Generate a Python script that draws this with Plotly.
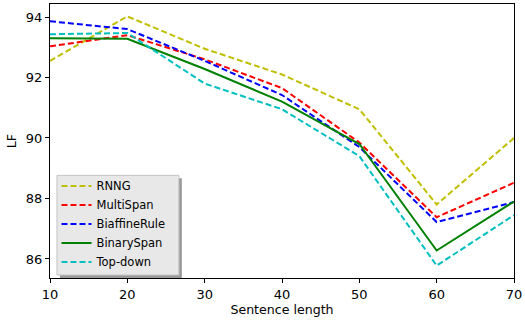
import plotly.graph_objects as go

lengths = [10, 20, 30, 40, 50, 60, 70]
rnng = [92.55, 94.02, 92.95, 92.1, 90.95, 87.8, 90.0]
multispan = [93.03, 93.4, 92.6, 91.65, 89.85, 87.38, 88.52]
biaffine = [93.86, 93.6, 92.55, 91.42, 89.7, 87.22, 87.88]
binaryspan = [93.3, 93.28, 92.28, 91.2, 89.8, 86.28, 87.9]
topdown = [93.43, 93.47, 91.8, 90.95, 89.4, 85.78, 87.45]

series = [
    ("RNNG", rnng, "#bfbf00", "dash"),
    ("MultiSpan", multispan, "#ff0000", "dash"),
    ("BiaffineRule", biaffine, "#0000ff", "dash"),
    ("BinarySpan", binaryspan, "#008000", "solid"),
    ("Top-down", topdown, "#00bfbf", "dash"),
]

fig = go.Figure()
for name, vals, color, dash in series:
    fig.add_trace(go.Scatter(x=lengths, y=vals, name=name, mode="lines",
                             line=dict(color=color, width=2, dash="6px,3px" if dash == "dash" else "solid")))

W, H = 468, 275  # plot area in px
font = dict(family="DejaVu Sans", size=13, color="black")
fig.update_layout(
    width=525, height=322,
    margin=dict(l=50, r=7, t=3, b=44),
    plot_bgcolor="white", paper_bgcolor="white",
    font=font,
    xaxis=dict(range=[10, 70], tickvals=[10, 20, 30, 40, 50, 60, 70], showgrid=False, zeroline=False,
               showline=True, linecolor="black", linewidth=1, mirror=True,
               ticks="outside", ticklen=4, tickcolor="black", ticklabeloverflow="allow",
               title=dict(text="Sentence length", font=dict(size=12.6), standoff=4)),
    yaxis=dict(range=[85.37, 94.43], tickvals=[86, 88, 90, 92, 94], showgrid=False, zeroline=False,
               showline=True, linecolor="black", linewidth=1, mirror=True,
               ticks="outside", ticklen=4, tickcolor="black",
               title=dict(text="LF", font=dict(size=12.6), standoff=6)),
    legend=dict(x=0.014, y=0.389, xanchor="left", yanchor="top",
                bgcolor="rgba(0,0,0,0)", borderwidth=0,
                font=dict(size=11.5), tracegroupgap=0, itemwidth=30),
    shapes=[
        dict(type="rect", xref="paper", yref="paper",
             x0=10 / W, x1=133 / W, y0=0 / H, y1=100 / H,
             fillcolor="#9a9a9a", line=dict(width=0), layer="above"),
        dict(type="rect", xref="paper", yref="paper",
             x0=7 / W, x1=130 / W, y0=3 / H, y1=103 / H,
             fillcolor="#e8e8e8", line=dict(width=1, color="#c4c4c4"), layer="above"),
    ],
)
fig.write_html("out.html", config={"displayModeBar": False},
               post_script="document.body.style.margin='0';document.body.style.overflow='hidden';")
